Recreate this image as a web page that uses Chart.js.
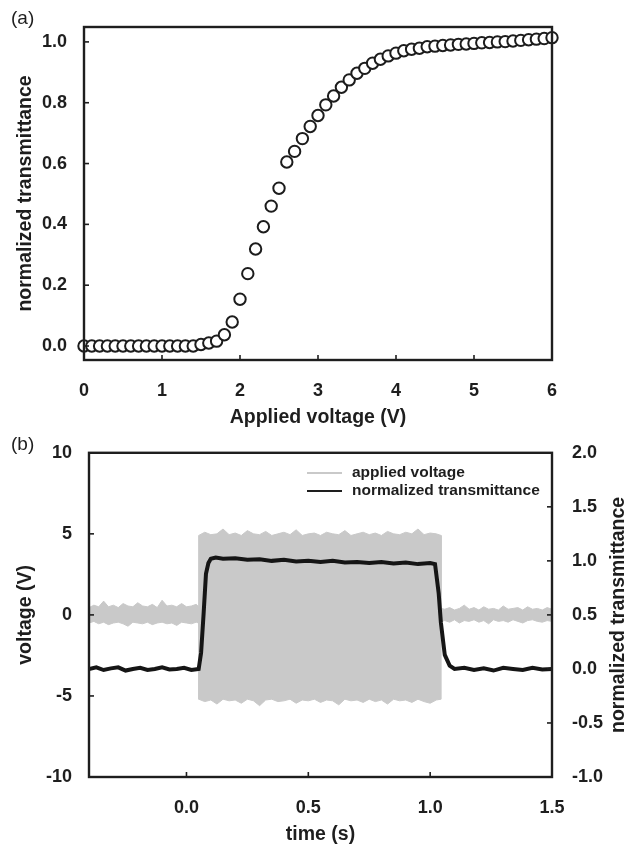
<!DOCTYPE html>
<html>
<head>
<meta charset="utf-8">
<script src="https://cdn.jsdelivr.net/npm/chart.js@4.4.1/dist/chart.umd.min.js"></script>
<style>
  html, body { margin: 0; padding: 0; background: #fff; }
  #wrap { position: relative; width: 625px; height: 846px; overflow: hidden; }
  canvas { position: absolute; left: 0; }
  #chartA { top: 0; }
  #chartB { top: 430px; }
</style>
</head>
<body>
<div id="wrap">
  <canvas id="chartA" width="625" height="445"></canvas>
  <canvas id="chartB" width="625" height="416"></canvas>
</div>
<script>
// ===== DATA (a): transmittance vs applied voltage =====
const voltsA = [
  0.0, 0.1, 0.2, 0.3, 0.4, 0.5, 0.6, 0.7, 0.8, 0.9,
  1.0, 1.1, 1.2, 1.3, 1.4, 1.5, 1.6, 1.7, 1.8, 1.9,
  2.0, 2.1, 2.2, 2.3, 2.4, 2.5, 2.6, 2.7, 2.8, 2.9,
  3.0, 3.1, 3.2, 3.3, 3.4, 3.5, 3.6, 3.7, 3.8, 3.9,
  4.0, 4.1, 4.2, 4.3, 4.4, 4.5, 4.6, 4.7, 4.8, 4.9,
  5.0, 5.1, 5.2, 5.3, 5.4, 5.5, 5.6, 5.7, 5.8, 5.9, 6.0
];
const transA = [
  0, 0, 0, 0, 0, 0, 0, 0, 0, 0,
  0, 0, 0, 0, 0, 0.005, 0.01, 0.016, 0.037, 0.079,
  0.154, 0.238, 0.319, 0.392, 0.46, 0.519, 0.605, 0.64, 0.682, 0.722,
  0.758, 0.793, 0.822, 0.851, 0.875, 0.897, 0.913, 0.93, 0.943, 0.954,
  0.963, 0.971, 0.976, 0.979, 0.984, 0.986, 0.988, 0.99, 0.992, 0.993,
  0.995, 0.997, 0.998, 1.0, 1.001, 1.003, 1.005, 1.007, 1.009, 1.011, 1.014
];
const yTicksA = [0, 0.2, 0.4, 0.6, 0.8, 1.0];

// ===== DATA (b): response in time =====
// applied voltage drawn as a band (upper / lower edge of the noisy trace)
const voltTime = [
  -0.40, -0.38, -0.36, -0.34, -0.32, -0.30, -0.28, -0.26, -0.24, -0.22, -0.20, -0.18,
  -0.16, -0.14, -0.12, -0.10, -0.08, -0.06, -0.04, -0.02, 0.00, 0.02, 0.04, 0.05,
  0.05, 0.075, 0.10, 0.125, 0.15, 0.175, 0.20, 0.225, 0.25, 0.275, 0.30, 0.325, 0.35, 0.375,
  0.40, 0.425, 0.45, 0.475, 0.50, 0.525, 0.55, 0.575, 0.60, 0.625, 0.65, 0.675, 0.70, 0.725,
  0.75, 0.775, 0.80, 0.825, 0.85, 0.875, 0.90, 0.925, 0.95, 0.975, 1.00, 1.025, 1.045,
  1.045, 1.06, 1.08, 1.10, 1.12, 1.14, 1.16, 1.18, 1.20, 1.22, 1.24, 1.26,
  1.28, 1.30, 1.32, 1.34, 1.36, 1.38, 1.40, 1.42, 1.44, 1.46, 1.48, 1.50
];
const voltUpper = [
  0.45, 0.6, 0.5, 0.85, 0.5, 0.6, 0.45, 0.7, 0.55, 0.5, 0.75, 0.55,
  0.5, 0.65, 0.45, 0.9, 0.55, 0.6, 0.5, 0.7, 0.5, 0.55, 0.65, 0.5,
  4.9, 5.1, 4.95, 5.0, 5.3, 4.95, 5.05, 4.9, 5.2, 5.0, 4.95, 5.15, 4.9, 5.0,
  5.1, 4.95, 5.25, 4.9, 5.0, 5.05, 4.9, 5.1, 5.0, 4.95, 5.2, 4.9, 5.0, 5.1,
  4.95, 5.05, 4.9, 5.15, 5.0, 4.95, 5.1, 5.0, 5.3, 4.95, 5.05, 5.0, 4.9,
  0.4, 0.35, 0.45, 0.3, 0.4, 0.6, 0.35, 0.45, 0.3, 0.5, 0.35, 0.4,
  0.3, 0.55, 0.35, 0.4, 0.45, 0.3, 0.5, 0.35, 0.4, 0.3, 0.45, 0.35
];
const voltLower = [
  -0.5, -0.4, -0.55, -0.45, -0.6, -0.5, -0.45, -0.55, -0.7, -0.45, -0.5, -0.55,
  -0.45, -0.6, -0.5, -0.45, -0.55, -0.5, -0.65, -0.45, -0.5, -0.55, -0.45, -0.5,
  -5.2, -5.35, -5.25, -5.5, -5.2, -5.3, -5.25, -5.45, -5.2, -5.3, -5.6, -5.25, -5.2, -5.35,
  -5.3, -5.2, -5.45, -5.25, -5.3, -5.2, -5.4, -5.25, -5.3, -5.55, -5.2, -5.3, -5.25, -5.4,
  -5.2, -5.35, -5.25, -5.5, -5.2, -5.3, -5.25, -5.4, -5.2, -5.35, -5.45, -5.25, -5.2,
  -0.4, -0.35, -0.45, -0.3, -0.5, -0.35, -0.4, -0.3, -0.45, -0.35, -0.55, -0.3,
  -0.4, -0.35, -0.45, -0.3, -0.4, -0.5, -0.35, -0.3, -0.4, -0.45, -0.35, -0.4
];
const transTime = [
  -0.40, -0.37, -0.34, -0.31, -0.28, -0.25, -0.22, -0.19, -0.16, -0.13, -0.10, -0.07, -0.04, -0.01, 0.02, 0.05,
  0.06, 0.07, 0.08, 0.09, 0.10, 0.12,
  0.15, 0.20, 0.25, 0.30, 0.35, 0.40, 0.45, 0.50, 0.55, 0.60, 0.65, 0.70, 0.75, 0.80, 0.85, 0.90, 0.95, 1.00, 1.02,
  1.035, 1.044, 1.06, 1.08, 1.10,
  1.14, 1.18, 1.22, 1.26, 1.30, 1.34, 1.38, 1.42, 1.46, 1.50
];
const transB = [
  0.0, 0.015, -0.01, 0.005, 0.015, -0.015, 0.0, 0.01, -0.01, 0.0, 0.015, -0.005, 0.0, 0.01, -0.01, 0.0,
  0.15, 0.5, 0.88, 0.98, 1.02, 1.03,
  1.02, 1.025, 1.01, 1.015, 1.0, 1.01, 0.995, 1.0, 0.99, 1.0, 0.985, 0.99, 0.98, 0.99, 0.975, 0.985, 0.97, 0.98, 0.97,
  0.7, 0.43, 0.13, 0.03, 0.0,
  0.01, -0.01, 0.005, -0.015, 0.01, 0.0, -0.01, 0.01, -0.005, 0.0
];
const xTicksB = [0, 0.5, 1.0, 1.5];

// ===== SHARED STYLE =====
const INK = '#1e1e1e';
const FONT = "'Liberation Sans', Arial, sans-serif";
const tickFont = { family: FONT, size: 18, weight: 'bold' };
const titleFont = { family: FONT, size: 19.5, weight: 'bold' };

function setTicks(values) {
  return (scale) => { scale.ticks = values.map(v => ({ value: v })); };
}

// inward tick marks + closed frame
const frameTicks = {
  id: 'frameTicks',
  afterDraw(chart) {
    const { ctx, chartArea: a } = chart;
    const len = 5;
    ctx.save();
    ctx.strokeStyle = INK;
    ctx.lineWidth = 1.6;
    Object.values(chart.scales).forEach(s => {
      s.ticks.forEach(t => {
        const p = s.getPixelForValue(t.value);
        ctx.beginPath();
        if (s.position === 'bottom') { ctx.moveTo(p, a.bottom); ctx.lineTo(p, a.bottom - len); }
        else if (s.position === 'left') { ctx.moveTo(a.left, p); ctx.lineTo(a.left + len, p); }
        else if (s.position === 'right') { ctx.moveTo(a.right, p); ctx.lineTo(a.right - len, p); }
        ctx.stroke();
      });
    });
    ctx.lineWidth = 2.4;
    ctx.strokeRect(a.left, a.top, a.right - a.left, a.bottom - a.top);
    ctx.restore();
  }
};

// ===== CHART (a) =====
const panelA = {
  id: 'panelA',
  afterDraw(chart) {
    const ctx = chart.ctx;
    ctx.save();
    ctx.fillStyle = INK;
    ctx.font = `19px ${FONT}`;
    ctx.textBaseline = 'middle';
    ctx.fillText('(a)', 11, 19);
    ctx.restore();
  }
};

new Chart(document.getElementById('chartA'), {
  type: 'scatter',
  data: {
    datasets: [{
      data: voltsA.map((v, i) => ({ x: v, y: transA[i] })),
      pointRadius: 5.7,
      pointBorderWidth: 2,
      pointBorderColor: '#1c1c1c',
      pointBackgroundColor: '#fff',
      clip: false,
    }]
  },
  options: {
    responsive: false,
    animation: false,
    layout: { padding: { top: 27, right: 73, left: 0, bottom: 0 } },
    plugins: { legend: { display: false }, tooltip: { enabled: false } },
    scales: {
      x: {
        type: 'linear', min: 0, max: 6,
        ticks: { stepSize: 1, font: tickFont, color: INK, padding: 12 },
        grid: { display: false }, border: { display: false },
        title: { display: true, text: 'Applied voltage (V)', font: titleFont, color: INK, padding: { bottom: 16 } },
        afterFit: (s) => { s.height = 85; },
      },
      y: {
        min: -0.046, max: 1.049,
        afterBuildTicks: setTicks(yTicksA),
        ticks: { font: tickFont, color: INK, padding: 9, callback: v => v.toFixed(1) },
        grid: { display: false }, border: { display: false },
        title: { display: true, text: 'normalized transmittance', font: titleFont, color: INK, padding: { top: 14 } },
        afterFit: (s) => { s.width = 84; },
      }
    }
  },
  plugins: [frameTicks, panelA]
});

// ===== CHART (b) =====
const panelB = {
  id: 'panelB',
  afterDraw(chart) {
    const { ctx, chartArea: a } = chart;
    ctx.save();
    ctx.fillStyle = INK;
    ctx.textBaseline = 'middle';
    ctx.font = `19px ${FONT}`;
    ctx.fillText('(b)', 11, 15);
    // legend
    ctx.lineWidth = 2;
    ctx.strokeStyle = '#c9c9c9';
    ctx.beginPath(); ctx.moveTo(307, 43); ctx.lineTo(342, 43); ctx.stroke();
    ctx.strokeStyle = INK;
    ctx.beginPath(); ctx.moveTo(307, 61); ctx.lineTo(342, 61); ctx.stroke();
    ctx.font = `bold 15.5px ${FONT}`;
    ctx.fillText('applied voltage', 352, 43);
    ctx.fillText('normalized transmittance', 352, 61);
    // right axis title, reading upwards
    ctx.translate(619, (a.top + a.bottom) / 2);
    ctx.rotate(-Math.PI / 2);
    ctx.textAlign = 'center';
    ctx.font = `bold 19.5px ${FONT}`;
    ctx.fillText('normalized transmittance', 0, 0);
    ctx.restore();
  }
};

const gray = '#c9c9c9';
new Chart(document.getElementById('chartB'), {
  type: 'line',
  data: {
    datasets: [
      {
        label: 'normalized transmittance',
        yAxisID: 'y1',
        data: transTime.map((t, i) => ({ x: t, y: transB[i] })),
        borderColor: '#151515', borderWidth: 4, pointRadius: 0, tension: 0,
      },
      {
        label: 'applied voltage',
        yAxisID: 'y',
        data: voltTime.map((t, i) => ({ x: t, y: voltUpper[i] })),
        borderColor: gray, borderWidth: 1, pointRadius: 0,
        backgroundColor: gray, fill: '+1',
      },
      {
        label: 'applied voltage (lower)',
        yAxisID: 'y',
        data: voltTime.map((t, i) => ({ x: t, y: voltLower[i] })),
        borderColor: gray, borderWidth: 1, pointRadius: 0, fill: false,
      }
    ]
  },
  options: {
    responsive: false,
    animation: false,
    layout: { padding: { top: 16, right: 0, left: 0, bottom: 0 } },
    plugins: { legend: { display: false }, tooltip: { enabled: false } },
    scales: {
      x: {
        type: 'linear', min: -0.4, max: 1.5,
        afterBuildTicks: setTicks(xTicksB),
        ticks: { font: tickFont, color: INK, padding: 12, callback: v => v.toFixed(1) },
        grid: { display: false }, border: { display: false },
        title: { display: true, text: 'time (s)', font: titleFont, color: INK, padding: { bottom: 0 } },
        afterFit: (s) => { s.height = 69; },
      },
      y: {
        position: 'left', min: -10, max: 10,
        ticks: { stepSize: 5, font: tickFont, color: INK, padding: 9 },
        grid: { display: false }, border: { display: false },
        title: { display: true, text: 'voltage (V)', font: titleFont, color: INK, padding: { top: 14 } },
        afterFit: (s) => { s.width = 89; },
      },
      y1: {
        position: 'right', min: -1, max: 2,
        ticks: { stepSize: 0.5, font: tickFont, color: INK, padding: 12, callback: v => v.toFixed(1) },
        grid: { display: false }, border: { display: false },
        afterFit: (s) => { s.width = 73; },
      }
    }
  },
  plugins: [frameTicks, panelB]
});
</script>
</body>
</html>
